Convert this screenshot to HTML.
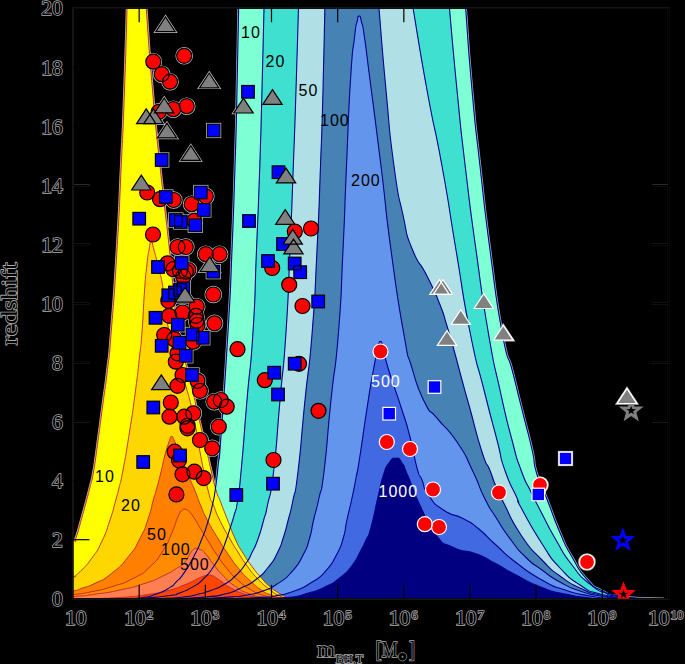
<!DOCTYPE html><html><head><meta charset="utf-8"><style>html,body{margin:0;padding:0;background:#000}svg{display:block}</style></head><body><svg width="685" height="664" viewBox="0 0 685 664">
<rect width="685" height="664" fill="#000"/>
<defs><clipPath id="cp"><rect x="73.00" y="8.25" width="595.50" height="590.50"/></clipPath></defs>
<g clip-path="url(#cp)" fill="none" stroke="#c4c4c4" stroke-width="2.6"><circle cx="184.2" cy="55.8" r="7.5"/><circle cx="153.3" cy="61.7" r="7.5"/><circle cx="161.7" cy="74.2" r="7.5"/><circle cx="170.0" cy="81.7" r="7.5"/><circle cx="186.7" cy="106.2" r="7.5"/><circle cx="173.3" cy="109.2" r="7.5"/><circle cx="158.8" cy="111.8" r="7.5"/><circle cx="147.2" cy="192.5" r="7.5"/><circle cx="160.0" cy="199.2" r="7.5"/><circle cx="173.7" cy="200.0" r="7.5"/><circle cx="205.8" cy="196.3" r="7.5"/><circle cx="191.7" cy="204.2" r="7.5"/><circle cx="194.2" cy="220.8" r="7.5"/><circle cx="153.0" cy="234.5" r="7.5"/><circle cx="177.5" cy="247.0" r="7.5"/><circle cx="185.8" cy="247.0" r="7.5"/><circle cx="205.8" cy="254.2" r="7.5"/><circle cx="219.5" cy="254.2" r="7.5"/><circle cx="167.5" cy="263.3" r="7.5"/><circle cx="173.3" cy="269.2" r="7.5"/><circle cx="180.0" cy="270.8" r="7.5"/><circle cx="185.8" cy="271.7" r="7.5"/><circle cx="188.3" cy="270.0" r="7.5"/><circle cx="183.3" cy="276.7" r="7.5"/><circle cx="213.3" cy="294.5" r="7.5"/><circle cx="168.3" cy="300.8" r="7.5"/><circle cx="196.7" cy="306.7" r="7.5"/><circle cx="169.2" cy="315.8" r="7.5"/><circle cx="182.5" cy="312.5" r="7.5"/><circle cx="195.8" cy="315.8" r="7.5"/><circle cx="196.7" cy="320.8" r="7.5"/><circle cx="197.5" cy="325.0" r="7.5"/><circle cx="214.5" cy="323.3" r="7.5"/><circle cx="164.2" cy="335.0" r="7.5"/><circle cx="174.2" cy="339.2" r="7.5"/><circle cx="193.3" cy="341.7" r="7.5"/><circle cx="177.5" cy="353.3" r="7.5"/><circle cx="175.8" cy="361.7" r="7.5"/><circle cx="237.5" cy="349.2" r="7.5"/><circle cx="182.5" cy="375.0" r="7.5"/><circle cx="197.5" cy="380.8" r="7.5"/><circle cx="177.5" cy="385.8" r="7.5"/><circle cx="200.0" cy="390.8" r="7.5"/><circle cx="170.8" cy="402.5" r="7.5"/><circle cx="214.2" cy="401.7" r="7.5"/><circle cx="220.8" cy="400.0" r="7.5"/><circle cx="226.7" cy="406.7" r="7.5"/><circle cx="169.5" cy="416.7" r="7.5"/><circle cx="184.2" cy="416.7" r="7.5"/><circle cx="193.3" cy="413.3" r="7.5"/><circle cx="187.5" cy="425.8" r="7.5"/><circle cx="187.5" cy="428.3" r="7.5"/><circle cx="218.8" cy="426.7" r="7.5"/><circle cx="200.0" cy="440.0" r="7.5"/><circle cx="212.2" cy="448.3" r="7.5"/><circle cx="174.7" cy="451.7" r="7.5"/><circle cx="179.0" cy="460.3" r="7.5"/><circle cx="182.5" cy="474.3" r="7.5"/><circle cx="194.4" cy="471.7" r="7.5"/><circle cx="203.6" cy="478.1" r="7.5"/><circle cx="176.4" cy="494.4" r="7.5"/><circle cx="294.8" cy="231.5" r="7.5"/><circle cx="311.0" cy="228.5" r="7.5"/><circle cx="272.2" cy="268.0" r="7.5"/><circle cx="289.2" cy="284.8" r="7.5"/><circle cx="302.5" cy="306.0" r="7.5"/><circle cx="264.8" cy="380.2" r="7.5"/><circle cx="299.0" cy="363.8" r="7.5"/><circle cx="318.5" cy="410.8" r="7.5"/><circle cx="273.5" cy="460.0" r="7.5"/><rect x="155.4" y="153.7" width="12.6" height="12.6"/><rect x="207.3" y="124.2" width="12.6" height="12.6"/><rect x="241.7" y="85.5" width="12.6" height="12.6"/><rect x="159.5" y="190.7" width="12.6" height="12.6"/><rect x="194.5" y="186.2" width="12.6" height="12.6"/><rect x="197.5" y="203.7" width="12.6" height="12.6"/><rect x="132.9" y="212.4" width="12.6" height="12.6"/><rect x="169.5" y="213.7" width="12.6" height="12.6"/><rect x="174.5" y="215.7" width="12.6" height="12.6"/><rect x="189.0" y="219.0" width="12.6" height="12.6"/><rect x="175.4" y="256.7" width="12.6" height="12.6"/><rect x="151.7" y="260.7" width="12.6" height="12.6"/><rect x="207.0" y="265.4" width="12.6" height="12.6"/><rect x="162.0" y="289.0" width="12.6" height="12.6"/><rect x="168.7" y="286.2" width="12.6" height="12.6"/><rect x="173.7" y="283.7" width="12.6" height="12.6"/><rect x="177.0" y="282.0" width="12.6" height="12.6"/><rect x="149.2" y="311.5" width="12.6" height="12.6"/><rect x="171.5" y="318.4" width="12.6" height="12.6"/><rect x="186.2" y="328.2" width="12.6" height="12.6"/><rect x="196.5" y="331.5" width="12.6" height="12.6"/><rect x="155.4" y="339.5" width="12.6" height="12.6"/><rect x="173.2" y="336.5" width="12.6" height="12.6"/><rect x="179.5" y="349.5" width="12.6" height="12.6"/><rect x="185.7" y="368.7" width="12.6" height="12.6"/><rect x="147.0" y="401.2" width="12.6" height="12.6"/><rect x="173.7" y="449.2" width="12.6" height="12.6"/><rect x="136.9" y="455.7" width="12.6" height="12.6"/><rect x="230.0" y="488.7" width="12.6" height="12.6"/><rect x="272.2" y="165.9" width="12.6" height="12.6"/><rect x="242.7" y="214.7" width="12.6" height="12.6"/><rect x="276.7" y="237.7" width="12.6" height="12.6"/><rect x="261.7" y="254.7" width="12.6" height="12.6"/><rect x="288.4" y="257.2" width="12.6" height="12.6"/><rect x="293.9" y="265.9" width="12.6" height="12.6"/><rect x="311.9" y="295.2" width="12.6" height="12.6"/><rect x="267.9" y="366.4" width="12.6" height="12.6"/><rect x="288.4" y="357.4" width="12.6" height="12.6"/><rect x="271.7" y="388.2" width="12.6" height="12.6"/><rect x="266.7" y="477.4" width="12.6" height="12.6"/><path d="M165.5 16.8L175.2 31.6L155.8 31.6Z"/><path d="M209.2 73.0L218.9 87.8L199.5 87.8Z"/><path d="M164.2 98.0L173.9 112.8L154.5 112.8Z"/><path d="M146.2 108.8L155.9 123.6L136.6 123.6Z"/><path d="M153.5 108.8L163.2 123.6L143.8 123.6Z"/><path d="M167.0 123.1L176.7 137.9L157.3 137.9Z"/><path d="M190.8 145.6L200.4 160.4L181.1 160.4Z"/><path d="M141.3 175.2L151.0 190.0L131.6 190.0Z"/><path d="M209.7 256.9L219.4 271.7L200.0 271.7Z"/><path d="M185.0 287.4L194.7 302.2L175.3 302.2Z"/><path d="M161.3 374.8L171.0 389.6L151.6 389.6Z"/><path d="M243.5 98.2L253.2 113.0L233.8 113.0Z"/><path d="M272.5 89.6L282.2 104.4L262.8 104.4Z"/><path d="M286.0 168.1L295.7 182.9L276.3 182.9Z"/><path d="M285.2 209.6L294.9 224.4L275.6 224.4Z"/><path d="M292.8 229.3L302.4 244.1L283.1 244.1Z"/><path d="M293.5 239.1L303.2 253.9L283.8 253.9Z"/><circle cx="380.5" cy="351.5" r="7.5"/><circle cx="386.8" cy="442.0" r="7.5"/><circle cx="410.0" cy="449.0" r="7.5"/><circle cx="433.0" cy="489.5" r="7.5"/><circle cx="424.8" cy="524.2" r="7.5"/><circle cx="439.0" cy="527.0" r="7.5"/><circle cx="499.0" cy="492.5" r="7.5"/><circle cx="540.0" cy="485.0" r="7.5"/><circle cx="587.0" cy="562.0" r="7.5"/><rect x="382.9" y="407.4" width="12.6" height="12.6"/><rect x="428.2" y="380.7" width="12.6" height="12.6"/><rect x="532.0" y="488.2" width="12.6" height="12.6"/><rect x="559.2" y="452.2" width="12.6" height="12.6"/><path d="M439.5 279.6L449.2 294.4L429.8 294.4Z"/><path d="M443.0 279.6L452.7 294.4L433.3 294.4Z"/><path d="M483.8 293.7L493.4 308.5L474.1 308.5Z"/><path d="M460.8 309.6L470.4 324.4L451.1 324.4Z"/><path d="M503.2 325.4L513.0 340.2L493.6 340.2Z"/><path d="M447.0 330.6L456.7 345.4L437.3 345.4Z"/><path d="M627.0 388.7L636.7 403.5L617.3 403.5Z"/></g>
<g clip-path="url(#cp)">
<path d="M125.0 598.8C130.6 598.4 131.4 599.3 141.9 597.7C152.4 596.1 147.1 597.4 156.5 594.0C165.9 590.6 163.6 591.3 170.0 587.4C176.4 583.5 170.9 587.4 175.8 582.3C180.7 577.2 178.3 581.3 184.6 572.1C190.9 562.9 189.2 565.3 194.8 554.6C200.4 543.9 197.1 550.6 201.4 540.0C205.7 529.4 204.0 534.5 207.6 522.9C211.2 511.3 209.7 516.9 212.3 505.3C214.9 493.7 213.4 502.4 215.5 488.0C217.6 473.6 216.7 479.3 218.5 462.0C220.3 444.7 217.8 479.3 221.0 436.0C224.2 392.7 224.3 394.0 228.0 332.0C231.7 270.0 229.7 305.3 232.0 250.0C234.3 194.7 233.3 219.3 235.0 166.0C236.7 112.7 235.8 145.3 237.0 90.0C238.2 34.7 237.9 43.3 238.8 0.0C239.6 -43.3 239.3 -26.7 239.5 -40.0M461.9 -40.0C462.9 -26.7 461.6 -43.3 465.0 0.0C468.4 43.3 467.0 34.7 472.0 90.0C477.0 145.3 474.0 112.7 480.0 166.0C486.0 219.3 482.7 194.7 490.0 250.0C497.3 305.3 494.7 292.2 502.0 332.0C509.3 371.8 506.6 348.7 512.0 369.5C517.4 390.3 514.1 377.8 518.2 394.5C522.4 411.2 519.9 401.2 524.5 419.5C529.1 437.8 527.8 431.2 532.0 449.5C536.2 467.8 531.9 457.7 537.0 474.5C542.1 491.3 539.7 480.8 547.3 500.0C554.9 519.2 551.5 513.0 559.7 532.0C567.9 551.0 562.9 541.2 572.0 557.0C581.1 572.8 577.0 568.2 587.0 579.4C597.0 590.6 590.3 584.8 601.9 590.6C613.5 596.4 601.0 594.1 621.7 596.8C642.4 599.5 649.9 598.1 664.0 598.8" fill="none" stroke="#ececff" stroke-opacity="0.7" stroke-width="2.6"/>
<path d="M60.0 541.0C64.5 540.7 68.2 540.9 73.5 540.0C78.8 539.1 73.1 545.5 75.8 538.3C78.5 531.1 78.1 531.1 81.7 518.3C85.3 505.5 83.9 510.4 86.7 500.0C89.5 489.6 87.7 496.3 90.0 487.0C92.3 477.7 91.0 486.2 93.5 472.0C96.0 457.8 94.5 466.2 97.5 444.5C100.5 422.8 99.2 432.0 102.5 407.0C105.8 382.0 104.6 394.5 107.5 369.5C110.4 344.5 108.1 371.8 111.2 332.0C114.4 292.2 113.7 305.3 117.0 250.0C120.3 194.7 118.8 219.3 121.2 166.0C123.8 112.7 122.5 145.3 124.5 90.0C126.5 34.7 126.0 43.3 127.3 0.0C128.6 -43.3 128.1 -26.7 128.5 -40.0M142.5 -40.0C143.6 -26.7 142.3 -43.3 145.6 0.0C148.9 43.3 147.7 34.7 152.5 90.0C157.3 145.3 154.3 112.7 160.0 166.0C165.7 219.3 165.0 208.3 169.5 250.0C174.0 291.7 170.5 263.7 173.5 291.0C176.5 318.3 172.7 301.2 178.5 332.0C184.3 362.8 184.1 355.1 190.8 383.3C197.5 411.5 193.3 394.5 198.5 416.7C203.7 438.9 202.3 432.2 206.5 450.0C210.7 467.8 207.8 456.7 211.0 470.0C214.2 483.3 212.7 479.0 216.0 490.0C219.3 501.0 216.9 492.4 221.0 503.0C225.1 513.6 223.4 509.4 228.3 521.7C233.2 534.0 230.8 529.5 235.7 540.0C240.6 550.5 237.6 544.3 243.0 553.1C248.4 561.9 245.5 557.8 251.8 566.3C258.1 574.8 256.0 571.9 262.0 578.7C268.0 585.5 264.4 582.0 269.9 586.7C275.4 591.4 271.7 588.6 278.4 592.8C285.1 597.0 286.1 597.1 290.0 599.2" fill="none" stroke="#ffe8e8" stroke-opacity="0.75" stroke-width="2.6"/>
<path d="M125.0 598.8C130.6 598.4 131.4 599.3 141.9 597.7C152.4 596.1 147.1 597.4 156.5 594.0C165.9 590.6 163.6 591.3 170.0 587.4C176.4 583.5 170.9 587.4 175.8 582.3C180.7 577.2 178.3 581.3 184.6 572.1C190.9 562.9 189.2 565.3 194.8 554.6C200.4 543.9 197.1 550.6 201.4 540.0C205.7 529.4 204.0 534.5 207.6 522.9C211.2 511.3 209.7 516.9 212.3 505.3C214.9 493.7 213.4 502.4 215.5 488.0C217.6 473.6 216.7 479.3 218.5 462.0C220.3 444.7 217.8 479.3 221.0 436.0C224.2 392.7 224.3 394.0 228.0 332.0C231.7 270.0 229.7 305.3 232.0 250.0C234.3 194.7 233.3 219.3 235.0 166.0C236.7 112.7 235.8 145.3 237.0 90.0C238.2 34.7 237.9 43.3 238.8 0.0C239.6 -43.3 239.3 -26.7 239.5 -40.0L461.9 -40.0C462.9 -26.7 461.6 -43.3 465.0 0.0C468.4 43.3 467.0 34.7 472.0 90.0C477.0 145.3 474.0 112.7 480.0 166.0C486.0 219.3 482.7 194.7 490.0 250.0C497.3 305.3 494.7 292.2 502.0 332.0C509.3 371.8 506.6 348.7 512.0 369.5C517.4 390.3 514.1 377.8 518.2 394.5C522.4 411.2 519.9 401.2 524.5 419.5C529.1 437.8 527.8 431.2 532.0 449.5C536.2 467.8 531.9 457.7 537.0 474.5C542.1 491.3 539.7 480.8 547.3 500.0C554.9 519.2 551.5 513.0 559.7 532.0C567.9 551.0 562.9 541.2 572.0 557.0C581.1 572.8 577.0 568.2 587.0 579.4C597.0 590.6 590.3 584.8 601.9 590.6C613.5 596.4 601.0 594.1 621.7 596.8C642.4 599.5 649.9 598.1 664.0 598.8L664.0 620L50 620Z" fill="#7fffd4"/>
<path d="M140.0 598.8C150.0 597.7 157.1 597.3 170.0 595.5C182.9 593.7 171.5 596.0 178.8 593.3C186.1 590.6 183.6 592.3 191.9 587.4C200.2 582.5 196.3 585.7 203.6 578.7C210.9 571.7 208.0 574.8 213.8 566.3C219.6 557.8 217.0 561.9 221.1 553.1C225.2 544.3 223.1 548.7 226.2 540.0C229.3 531.3 227.7 535.8 230.5 527.0C233.3 518.2 232.2 522.3 234.6 513.5C237.0 504.7 235.4 515.1 237.6 500.6C239.8 486.1 238.1 503.5 241.2 470.0C244.4 436.5 243.1 446.0 247.0 400.0C250.9 354.0 249.8 382.0 253.0 332.0C256.2 282.0 254.2 305.3 256.5 250.0C258.8 194.7 257.9 219.3 259.8 166.0C261.6 112.7 260.5 145.3 262.0 90.0C263.5 34.7 263.1 43.3 264.2 0.0C265.3 -43.3 264.9 -26.7 265.2 -40.0L445.0 -40.0C446.2 -26.7 444.7 -43.3 448.7 0.0C452.7 43.3 451.5 34.7 457.0 90.0C462.5 145.3 458.9 112.7 465.2 166.0C471.6 219.3 468.3 194.7 476.0 250.0C483.7 305.3 480.2 285.3 488.2 332.0C496.2 378.7 492.1 354.0 500.0 390.0C507.9 426.0 505.0 413.3 512.0 440.0C519.0 466.7 514.7 452.7 521.0 470.0C527.3 487.3 524.0 477.4 531.0 492.0C538.0 506.6 533.7 497.8 542.0 513.8C550.3 529.8 546.0 522.9 556.0 540.0C566.0 557.1 560.7 550.3 572.0 565.0C583.3 579.7 577.3 574.3 590.0 584.0C602.7 593.7 593.3 589.1 610.0 594.0C626.7 598.9 630.0 597.2 640.0 598.8L640.0 620L50 620Z" fill="#40e0d0"/>
<path d="M160.0 598.8C167.2 598.2 169.6 598.6 181.7 597.2C193.8 595.9 186.6 597.0 196.3 594.7C206.0 592.4 201.7 593.8 210.9 590.4C220.1 587.0 215.7 589.5 224.0 584.5C232.3 579.5 228.4 582.5 235.7 575.5C243.0 568.5 240.5 571.1 245.9 563.4C251.3 555.7 248.0 560.6 252.0 552.5C256.0 544.4 254.1 549.8 258.0 539.0C261.9 528.2 260.5 531.3 263.7 520.0C266.9 508.7 264.1 521.7 267.5 505.0C270.9 488.3 269.6 505.0 273.8 470.0C277.9 435.0 275.9 446.0 280.0 400.0C284.1 354.0 282.7 382.0 286.0 332.0C289.3 282.0 287.6 305.3 290.0 250.0C292.4 194.7 291.3 219.3 293.3 166.0C295.3 112.7 294.2 145.3 296.0 90.0C297.8 34.7 297.4 43.3 298.7 0.0C300.0 -43.3 299.5 -26.7 299.9 -40.0L404.9 -40.0C407.2 -26.7 404.3 -43.3 411.7 0.0C419.1 43.3 416.9 34.7 427.0 90.0C437.1 145.3 432.3 112.7 442.0 166.0C451.7 219.3 446.7 194.7 456.0 250.0C465.3 305.3 460.7 285.3 470.0 332.0C479.3 378.7 475.0 354.0 484.0 390.0C493.0 426.0 490.1 413.3 497.0 440.0C503.9 466.7 498.1 450.7 504.8 470.0C511.4 489.3 511.6 485.5 517.0 498.0C522.4 510.5 512.7 492.2 521.0 507.5C529.3 522.8 529.0 523.6 542.0 543.8C555.0 563.9 547.3 554.2 560.0 568.0C572.7 581.8 566.7 576.3 580.0 585.0C593.3 593.7 583.3 589.4 600.0 594.0C616.7 598.6 620.0 597.2 630.0 598.8L630.0 620L50 620Z" fill="#b0e0e6"/>
<path d="M180.0 598.8C188.8 598.1 191.8 598.4 206.5 596.9C221.2 595.4 212.8 597.1 224.0 594.3C235.2 591.5 229.3 593.4 240.0 588.5C250.7 583.6 246.7 586.5 256.0 579.5C265.3 572.5 260.9 576.3 268.0 567.5C275.1 558.7 272.1 563.2 277.3 553.0C282.5 542.8 279.9 548.0 283.5 537.0C287.1 526.0 285.0 532.3 288.2 520.0C291.4 507.7 289.6 516.7 293.0 500.0C296.4 483.3 294.2 503.3 298.2 470.0C302.2 436.7 300.3 446.0 305.0 400.0C309.7 354.0 308.2 382.0 312.2 332.0C316.2 282.0 314.2 305.3 317.0 250.0C319.8 194.7 318.5 219.3 320.5 166.0C322.5 112.7 321.5 145.3 323.0 90.0C324.5 34.7 324.0 43.3 325.0 0.0C326.0 -43.3 325.6 -26.7 325.9 -40.0L374.9 -40.0C376.0 -26.7 374.6 -43.3 378.3 0.0C382.0 43.3 380.8 34.7 386.0 90.0C391.2 145.3 388.3 124.3 394.0 166.0C399.7 207.7 397.0 187.5 403.0 215.0C409.0 242.5 404.0 228.2 412.0 248.5C420.0 268.8 417.8 257.7 427.0 276.0C436.2 294.3 432.8 286.8 439.5 303.5C446.2 320.2 442.0 309.8 447.0 326.0C452.0 342.2 449.5 334.0 454.5 352.0C459.5 370.0 457.0 361.7 462.0 380.0C467.0 398.3 462.8 383.0 469.5 407.0C476.2 431.0 475.2 431.0 482.0 452.0C488.8 473.0 485.2 458.7 489.8 470.0C494.3 481.3 491.2 475.2 495.8 486.0C500.3 496.8 495.1 486.2 503.5 502.5C511.9 518.8 508.2 515.8 521.0 535.0C533.8 554.2 529.0 546.3 542.0 560.0C555.0 573.7 547.3 566.7 560.0 576.0C572.7 585.3 566.7 581.7 580.0 588.0C593.3 594.3 585.0 591.4 600.0 595.0C615.0 598.6 616.7 597.5 625.0 598.8L625.0 620L50 620Z" fill="#4682b4"/>
<path d="M200.0 598.8C210.4 598.1 215.6 598.1 231.3 596.9C247.0 595.6 236.5 597.0 247.0 595.0C257.5 593.0 252.3 595.0 262.8 591.0C273.3 587.0 268.6 589.8 278.5 583.1C288.4 576.4 284.4 580.2 292.6 570.8C300.8 561.4 297.5 565.8 303.1 555.0C308.7 544.2 306.0 550.2 309.5 538.5C313.0 526.8 310.4 533.5 313.6 520.0C316.8 506.5 315.4 514.7 319.0 498.0C322.6 481.3 320.2 502.7 324.2 470.0C328.2 437.3 326.2 446.0 331.0 400.0C335.8 354.0 334.5 382.0 338.5 332.0C342.5 282.0 340.3 305.3 343.0 250.0C345.7 194.7 344.0 222.7 346.5 166.0C349.0 109.3 347.8 122.8 350.5 80.0C353.2 37.2 352.3 56.8 354.5 37.5C356.7 18.2 355.4 29.1 357.0 22.0C358.6 14.9 357.8 16.2 359.2 16.2C360.8 16.2 359.8 14.9 361.5 22.0C363.2 29.1 361.7 18.2 364.5 37.5C367.3 56.8 364.5 37.2 370.0 80.0C375.5 122.8 374.0 109.3 381.0 166.0C388.0 222.7 383.5 194.7 391.0 250.0C398.5 305.3 396.5 292.6 403.5 332.0C410.5 371.4 405.0 344.9 412.0 368.2C419.0 391.6 416.2 385.3 424.5 402.0C432.8 418.7 426.2 404.9 437.0 418.2C447.8 431.6 445.2 424.8 457.0 442.0C468.8 459.2 463.1 451.3 472.2 470.0C481.4 488.7 476.6 482.2 484.5 498.0C492.4 513.8 487.2 503.5 496.0 517.5C504.8 531.5 501.0 526.7 511.0 540.0C521.0 553.3 515.7 547.5 526.0 557.5C536.3 567.5 530.7 561.8 542.0 570.0C553.3 578.2 547.3 575.0 560.0 582.0C572.7 589.0 566.7 586.3 580.0 591.0C593.3 595.7 586.7 593.4 600.0 596.0C613.3 598.6 613.3 597.8 620.0 598.8L620.0 620L50 620Z" fill="#6495ed"/>
<path d="M230.0 598.8C240.3 598.3 245.9 598.3 260.9 597.4C275.9 596.5 263.9 598.1 275.0 596.0C286.1 593.9 282.0 595.6 294.3 591.0C306.6 586.4 301.3 588.9 311.8 582.2C322.3 575.5 317.6 579.9 325.8 570.8C334.0 561.7 330.5 566.1 336.4 555.0C342.3 543.9 339.9 549.2 343.4 537.5C346.9 525.8 344.0 533.2 346.9 520.0C349.8 506.8 349.0 512.0 352.0 498.0C355.0 484.0 353.4 491.7 356.0 478.0C358.6 464.3 356.0 480.7 359.8 457.0C363.5 433.3 362.7 436.2 367.2 407.0C371.8 377.8 370.1 388.5 373.5 369.5C376.9 350.5 375.2 359.3 377.5 350.0C379.8 340.7 378.5 341.5 380.5 341.5C382.5 341.5 380.8 340.7 383.5 350.0C386.2 359.3 382.7 350.5 388.5 369.5C394.3 388.5 393.8 384.5 401.0 407.0C408.2 429.5 404.7 416.7 410.0 437.0C415.3 457.3 413.0 453.7 417.0 468.0C421.0 482.3 418.2 471.0 422.0 480.0C425.8 489.0 421.3 485.0 428.5 495.0C435.7 505.0 431.8 502.1 443.5 510.0C455.2 517.9 451.8 512.5 463.5 518.8C475.2 525.0 467.7 520.0 478.5 528.8C489.3 537.5 483.5 533.8 496.0 545.0C508.5 556.2 500.7 550.8 516.0 562.5C531.3 574.2 525.7 570.8 542.0 580.0C558.3 589.2 549.0 584.7 565.0 590.0C581.0 595.3 575.0 593.1 590.0 596.0C605.0 598.9 603.3 597.8 610.0 598.8L610.0 620L50 620Z" fill="#4169e1"/>
<path d="M260.0 598.8C269.7 598.3 273.5 599.1 289.0 597.4C304.5 595.7 294.9 596.9 306.6 593.6C318.3 590.3 313.0 592.7 324.1 587.4C335.2 582.1 330.6 585.1 339.9 577.8C349.2 570.5 345.5 574.0 352.1 565.5C358.7 557.0 355.2 560.9 359.8 552.4C364.4 543.9 362.3 548.3 366.0 540.0C369.7 531.7 367.0 541.8 371.0 527.5C375.0 513.2 373.8 514.5 378.0 497.0C382.2 479.5 379.8 486.3 383.5 475.0C387.2 463.7 384.8 468.6 389.0 463.0C393.2 457.4 391.7 458.2 396.0 458.2C400.3 458.2 398.0 457.1 402.0 463.0C406.0 468.9 401.7 461.2 408.0 476.0C414.3 490.8 411.7 487.8 421.0 507.5C430.3 527.2 425.2 521.7 436.0 535.0C446.8 548.3 440.2 541.2 453.5 547.5C466.8 553.8 461.8 548.3 476.0 553.8C490.2 559.2 482.7 556.7 496.0 563.8C509.3 570.8 500.7 567.1 516.0 575.0C531.3 582.9 525.7 581.2 542.0 587.5C558.3 593.8 549.0 590.5 565.0 594.0C581.0 597.5 578.3 596.4 590.0 598.0C601.7 599.6 596.7 598.5 600.0 598.8L600.0 620L50 620Z" fill="#000080"/>
<path d="M60.0 541.0C64.5 540.7 68.2 540.9 73.5 540.0C78.8 539.1 73.1 545.5 75.8 538.3C78.5 531.1 78.1 531.1 81.7 518.3C85.3 505.5 83.9 510.4 86.7 500.0C89.5 489.6 87.7 496.3 90.0 487.0C92.3 477.7 91.0 486.2 93.5 472.0C96.0 457.8 94.5 466.2 97.5 444.5C100.5 422.8 99.2 432.0 102.5 407.0C105.8 382.0 104.6 394.5 107.5 369.5C110.4 344.5 108.1 371.8 111.2 332.0C114.4 292.2 113.7 305.3 117.0 250.0C120.3 194.7 118.8 219.3 121.2 166.0C123.8 112.7 122.5 145.3 124.5 90.0C126.5 34.7 126.0 43.3 127.3 0.0C128.6 -43.3 128.1 -26.7 128.5 -40.0L142.5 -40.0C143.6 -26.7 142.3 -43.3 145.6 0.0C148.9 43.3 147.7 34.7 152.5 90.0C157.3 145.3 154.3 112.7 160.0 166.0C165.7 219.3 165.0 208.3 169.5 250.0C174.0 291.7 170.5 263.7 173.5 291.0C176.5 318.3 172.7 301.2 178.5 332.0C184.3 362.8 184.1 355.1 190.8 383.3C197.5 411.5 193.3 394.5 198.5 416.7C203.7 438.9 202.3 432.2 206.5 450.0C210.7 467.8 207.8 456.7 211.0 470.0C214.2 483.3 212.7 479.0 216.0 490.0C219.3 501.0 216.9 492.4 221.0 503.0C225.1 513.6 223.4 509.4 228.3 521.7C233.2 534.0 230.8 529.5 235.7 540.0C240.6 550.5 237.6 544.3 243.0 553.1C248.4 561.9 245.5 557.8 251.8 566.3C258.1 574.8 256.0 571.9 262.0 578.7C268.0 585.5 264.4 582.0 269.9 586.7C275.4 591.4 271.7 588.6 278.4 592.8C285.1 597.0 286.1 597.1 290.0 599.2L290.0 620L50 620Z" fill="#ffff00"/>
<path d="M60.0 577.0C64.5 576.8 68.5 576.9 73.5 576.5C78.5 576.1 72.3 578.0 75.0 575.8C77.7 573.6 76.1 575.8 81.7 570.0C87.3 564.2 85.0 567.7 91.7 558.3C98.4 548.9 95.6 554.5 101.7 541.7C107.8 528.9 105.3 533.9 110.0 520.0C114.7 506.1 112.8 510.7 115.8 500.0C118.8 489.3 116.6 498.0 119.0 488.0C121.4 478.0 119.5 488.7 123.0 470.0C126.5 451.3 125.5 457.2 129.5 432.0C133.5 406.8 131.7 419.5 135.0 394.5C138.3 369.5 137.2 377.8 139.5 357.0C141.8 336.2 140.3 354.0 142.0 332.0C143.7 310.0 142.9 313.0 144.5 291.0C146.1 269.0 145.2 279.7 146.8 266.0C148.2 252.3 147.5 257.9 149.0 250.0C150.5 242.1 149.6 242.2 151.2 242.2C152.9 242.2 151.8 242.1 154.0 250.0C156.2 257.9 154.8 252.3 158.0 266.0C161.2 279.7 159.8 269.0 163.5 291.0C167.2 313.0 164.8 310.0 169.0 332.0C173.2 354.0 170.7 339.9 176.0 357.0C181.3 374.1 179.2 363.4 185.0 383.3C190.8 403.2 188.5 393.8 193.5 416.7C198.5 439.6 195.2 427.6 200.0 452.0C204.8 476.4 203.5 472.2 208.0 490.0C212.5 507.8 209.3 494.7 213.5 505.3C217.7 515.9 214.8 510.1 220.5 521.7C226.2 533.3 224.6 529.5 230.6 540.0C236.6 550.5 233.0 544.3 238.6 553.1C244.2 561.9 241.1 557.8 247.4 566.3C253.7 574.8 250.1 570.9 257.6 578.7C265.1 586.5 262.8 584.0 269.9 589.6C277.0 595.2 272.6 592.3 279.0 595.5C285.4 598.7 285.7 598.0 289.0 599.2L289.0 620L50 620Z" fill="#ffd700"/>
<path d="M60.0 591.0C64.5 590.9 66.3 591.7 73.5 590.8C80.7 589.9 74.5 590.8 81.7 588.3C88.9 585.8 85.0 588.3 95.0 583.3C105.0 578.3 100.6 582.2 111.7 573.3C122.8 564.4 118.9 568.4 128.3 556.7C137.7 545.0 133.3 551.1 140.0 538.3C146.7 525.5 143.9 531.1 148.3 518.3C152.7 505.5 150.6 509.4 153.3 500.0C156.0 490.6 153.7 499.3 156.3 490.0C158.9 480.7 158.1 483.7 161.0 472.0C163.9 460.3 162.3 465.0 165.0 455.0C167.7 445.0 166.8 448.1 169.0 442.0C171.2 435.9 169.7 436.9 171.5 436.6C173.3 436.3 172.3 436.5 174.5 441.0C176.7 445.5 173.0 437.7 178.0 450.0C183.0 462.3 183.9 464.7 189.5 478.0C195.1 491.3 191.0 480.9 194.7 490.0C198.4 499.1 196.3 495.1 200.6 505.3C204.9 515.5 201.5 509.0 207.6 520.6C213.7 532.2 212.0 528.7 218.9 540.0C225.8 551.3 221.8 545.1 228.4 554.6C235.0 564.1 231.3 559.7 238.6 568.5C245.9 577.3 242.5 573.6 250.3 580.9C258.1 588.2 255.1 585.7 262.0 590.4C268.9 595.1 265.0 592.5 271.0 595.0C277.0 597.5 274.2 596.4 280.0 597.8C285.8 599.2 285.7 598.7 288.5 599.2L288.5 620L50 620Z" fill="#ff7f00"/>
<path d="M60.0 594.7C64.5 594.6 62.9 595.5 73.5 594.5C84.1 593.5 79.0 594.3 91.7 591.7C104.4 589.1 97.8 591.2 111.7 586.7C125.6 582.2 120.5 585.0 133.3 578.3C146.1 571.6 140.0 576.1 150.0 566.7C160.0 557.3 156.1 561.1 163.3 550.0C170.5 538.9 166.7 544.6 171.7 533.3C176.7 522.0 174.9 523.6 178.3 516.0C181.7 508.4 179.7 512.7 182.0 510.5C184.3 508.3 183.0 509.0 185.3 509.3C187.6 509.6 186.3 508.9 189.0 511.5C191.7 514.1 189.6 511.2 193.5 517.0C197.4 522.8 195.9 521.1 200.6 528.8C205.3 536.5 202.1 531.4 207.5 540.0C212.9 548.6 210.2 545.1 216.7 554.6C223.2 564.1 219.6 559.7 226.9 568.5C234.2 577.3 230.3 573.6 238.6 580.9C246.9 588.2 243.0 585.4 251.8 590.4C260.6 595.4 256.5 593.2 264.9 595.8C273.3 598.4 269.3 597.2 277.0 598.3C284.7 599.4 284.3 598.9 288.0 599.2L288.0 620L50 620Z" fill="#ff8c00"/>
<path d="M60.0 596.7C64.5 596.6 61.8 597.3 73.5 596.5C85.2 595.7 79.5 596.4 95.0 594.2C110.5 592.0 103.3 593.6 120.0 590.0C136.7 586.4 130.6 588.0 145.0 583.3C159.4 578.6 152.7 580.8 163.3 575.8C173.9 570.8 169.8 572.6 176.7 568.3C183.6 564.0 179.6 567.9 184.0 563.0C188.4 558.1 186.8 558.2 190.0 553.8C193.2 549.2 191.3 551.3 193.5 549.5C195.7 547.7 194.3 548.3 196.5 548.3C198.7 548.3 197.2 547.9 200.0 549.5C202.8 551.1 200.4 548.0 205.0 553.1C209.6 558.2 207.5 557.0 213.8 564.8C220.1 572.6 216.7 569.2 224.0 576.5C231.3 583.8 227.4 581.0 235.7 586.7C244.0 592.4 239.6 590.1 248.8 593.6C258.0 597.1 254.0 595.6 263.4 597.3C272.8 599.0 269.1 598.1 277.0 598.7C284.9 599.3 283.7 599.0 287.0 599.2L287.0 620L50 620Z" fill="#ff7f50"/>
<path d="M80.0 599.0C82.2 598.9 73.4 599.2 86.7 598.7C100.0 598.2 98.9 599.0 120.0 597.5C141.1 596.0 133.3 596.7 150.0 594.2C166.7 591.7 158.7 593.1 170.0 590.0C181.3 586.9 177.3 587.5 184.0 585.0C190.7 582.5 185.3 584.7 190.0 582.5C194.7 580.3 193.3 580.7 198.0 578.5C202.7 576.3 200.4 577.2 204.0 576.0C207.6 574.8 206.0 575.1 208.7 575.0C211.4 574.9 209.8 575.0 212.0 575.7C214.2 576.4 211.8 575.0 215.3 577.2C218.8 579.4 217.3 578.6 222.6 582.3C227.9 586.0 224.5 584.4 231.3 588.2C238.1 592.0 235.2 590.7 243.0 593.6C250.8 596.5 245.7 595.2 254.7 596.8C263.7 598.4 259.6 597.7 270.0 598.5C280.4 599.3 280.7 599.0 286.0 599.2L286.0 620L50 620Z" fill="#ff4500"/>
<path d="M60.0 541.0C64.5 540.7 68.2 540.9 73.5 540.0C78.8 539.1 73.1 545.5 75.8 538.3C78.5 531.1 78.1 531.1 81.7 518.3C85.3 505.5 83.9 510.4 86.7 500.0C89.5 489.6 87.7 496.3 90.0 487.0C92.3 477.7 91.0 486.2 93.5 472.0C96.0 457.8 94.5 466.2 97.5 444.5C100.5 422.8 99.2 432.0 102.5 407.0C105.8 382.0 104.6 394.5 107.5 369.5C110.4 344.5 108.1 371.8 111.2 332.0C114.4 292.2 113.7 305.3 117.0 250.0C120.3 194.7 118.8 219.3 121.2 166.0C123.8 112.7 122.5 145.3 124.5 90.0C126.5 34.7 126.0 43.3 127.3 0.0C128.6 -43.3 128.1 -26.7 128.5 -40.0M142.5 -40.0C143.6 -26.7 142.3 -43.3 145.6 0.0C148.9 43.3 147.7 34.7 152.5 90.0C157.3 145.3 154.3 112.7 160.0 166.0C165.7 219.3 165.0 208.3 169.5 250.0C174.0 291.7 170.5 263.7 173.5 291.0C176.5 318.3 172.7 301.2 178.5 332.0C184.3 362.8 184.1 355.1 190.8 383.3C197.5 411.5 193.3 394.5 198.5 416.7C203.7 438.9 202.3 432.2 206.5 450.0C210.7 467.8 207.8 456.7 211.0 470.0C214.2 483.3 212.7 479.0 216.0 490.0C219.3 501.0 216.9 492.4 221.0 503.0C225.1 513.6 223.4 509.4 228.3 521.7C233.2 534.0 230.8 529.5 235.7 540.0C240.6 550.5 237.6 544.3 243.0 553.1C248.4 561.9 245.5 557.8 251.8 566.3C258.1 574.8 256.0 571.9 262.0 578.7C268.0 585.5 264.4 582.0 269.9 586.7C275.4 591.4 271.7 588.6 278.4 592.8C285.1 597.0 286.1 597.1 290.0 599.2" fill="none" stroke="#bf2a2a" stroke-width="0.95"/>
<path d="M60.0 577.0C64.5 576.8 68.5 576.9 73.5 576.5C78.5 576.1 72.3 578.0 75.0 575.8C77.7 573.6 76.1 575.8 81.7 570.0C87.3 564.2 85.0 567.7 91.7 558.3C98.4 548.9 95.6 554.5 101.7 541.7C107.8 528.9 105.3 533.9 110.0 520.0C114.7 506.1 112.8 510.7 115.8 500.0C118.8 489.3 116.6 498.0 119.0 488.0C121.4 478.0 119.5 488.7 123.0 470.0C126.5 451.3 125.5 457.2 129.5 432.0C133.5 406.8 131.7 419.5 135.0 394.5C138.3 369.5 137.2 377.8 139.5 357.0C141.8 336.2 140.3 354.0 142.0 332.0C143.7 310.0 142.9 313.0 144.5 291.0C146.1 269.0 145.2 279.7 146.8 266.0C148.2 252.3 147.5 257.9 149.0 250.0C150.5 242.1 149.6 242.2 151.2 242.2C152.9 242.2 151.8 242.1 154.0 250.0C156.2 257.9 154.8 252.3 158.0 266.0C161.2 279.7 159.8 269.0 163.5 291.0C167.2 313.0 164.8 310.0 169.0 332.0C173.2 354.0 170.7 339.9 176.0 357.0C181.3 374.1 179.2 363.4 185.0 383.3C190.8 403.2 188.5 393.8 193.5 416.7C198.5 439.6 195.2 427.6 200.0 452.0C204.8 476.4 203.5 472.2 208.0 490.0C212.5 507.8 209.3 494.7 213.5 505.3C217.7 515.9 214.8 510.1 220.5 521.7C226.2 533.3 224.6 529.5 230.6 540.0C236.6 550.5 233.0 544.3 238.6 553.1C244.2 561.9 241.1 557.8 247.4 566.3C253.7 574.8 250.1 570.9 257.6 578.7C265.1 586.5 262.8 584.0 269.9 589.6C277.0 595.2 272.6 592.3 279.0 595.5C285.4 598.7 285.7 598.0 289.0 599.2" fill="none" stroke="#bf2a2a" stroke-width="0.95"/>
<path d="M60.0 591.0C64.5 590.9 66.3 591.7 73.5 590.8C80.7 589.9 74.5 590.8 81.7 588.3C88.9 585.8 85.0 588.3 95.0 583.3C105.0 578.3 100.6 582.2 111.7 573.3C122.8 564.4 118.9 568.4 128.3 556.7C137.7 545.0 133.3 551.1 140.0 538.3C146.7 525.5 143.9 531.1 148.3 518.3C152.7 505.5 150.6 509.4 153.3 500.0C156.0 490.6 153.7 499.3 156.3 490.0C158.9 480.7 158.1 483.7 161.0 472.0C163.9 460.3 162.3 465.0 165.0 455.0C167.7 445.0 166.8 448.1 169.0 442.0C171.2 435.9 169.7 436.9 171.5 436.6C173.3 436.3 172.3 436.5 174.5 441.0C176.7 445.5 173.0 437.7 178.0 450.0C183.0 462.3 183.9 464.7 189.5 478.0C195.1 491.3 191.0 480.9 194.7 490.0C198.4 499.1 196.3 495.1 200.6 505.3C204.9 515.5 201.5 509.0 207.6 520.6C213.7 532.2 212.0 528.7 218.9 540.0C225.8 551.3 221.8 545.1 228.4 554.6C235.0 564.1 231.3 559.7 238.6 568.5C245.9 577.3 242.5 573.6 250.3 580.9C258.1 588.2 255.1 585.7 262.0 590.4C268.9 595.1 265.0 592.5 271.0 595.0C277.0 597.5 274.2 596.4 280.0 597.8C285.8 599.2 285.7 598.7 288.5 599.2" fill="none" stroke="#bf2a2a" stroke-width="0.95"/>
<path d="M60.0 594.7C64.5 594.6 62.9 595.5 73.5 594.5C84.1 593.5 79.0 594.3 91.7 591.7C104.4 589.1 97.8 591.2 111.7 586.7C125.6 582.2 120.5 585.0 133.3 578.3C146.1 571.6 140.0 576.1 150.0 566.7C160.0 557.3 156.1 561.1 163.3 550.0C170.5 538.9 166.7 544.6 171.7 533.3C176.7 522.0 174.9 523.6 178.3 516.0C181.7 508.4 179.7 512.7 182.0 510.5C184.3 508.3 183.0 509.0 185.3 509.3C187.6 509.6 186.3 508.9 189.0 511.5C191.7 514.1 189.6 511.2 193.5 517.0C197.4 522.8 195.9 521.1 200.6 528.8C205.3 536.5 202.1 531.4 207.5 540.0C212.9 548.6 210.2 545.1 216.7 554.6C223.2 564.1 219.6 559.7 226.9 568.5C234.2 577.3 230.3 573.6 238.6 580.9C246.9 588.2 243.0 585.4 251.8 590.4C260.6 595.4 256.5 593.2 264.9 595.8C273.3 598.4 269.3 597.2 277.0 598.3C284.7 599.4 284.3 598.9 288.0 599.2" fill="none" stroke="#bf2a2a" stroke-width="0.95"/>
<path d="M60.0 596.7C64.5 596.6 61.8 597.3 73.5 596.5C85.2 595.7 79.5 596.4 95.0 594.2C110.5 592.0 103.3 593.6 120.0 590.0C136.7 586.4 130.6 588.0 145.0 583.3C159.4 578.6 152.7 580.8 163.3 575.8C173.9 570.8 169.8 572.6 176.7 568.3C183.6 564.0 179.6 567.9 184.0 563.0C188.4 558.1 186.8 558.2 190.0 553.8C193.2 549.2 191.3 551.3 193.5 549.5C195.7 547.7 194.3 548.3 196.5 548.3C198.7 548.3 197.2 547.9 200.0 549.5C202.8 551.1 200.4 548.0 205.0 553.1C209.6 558.2 207.5 557.0 213.8 564.8C220.1 572.6 216.7 569.2 224.0 576.5C231.3 583.8 227.4 581.0 235.7 586.7C244.0 592.4 239.6 590.1 248.8 593.6C258.0 597.1 254.0 595.6 263.4 597.3C272.8 599.0 269.1 598.1 277.0 598.7C284.9 599.3 283.7 599.0 287.0 599.2" fill="none" stroke="#bf2a2a" stroke-width="0.95"/>
<path d="M80.0 599.0C82.2 598.9 73.4 599.2 86.7 598.7C100.0 598.2 98.9 599.0 120.0 597.5C141.1 596.0 133.3 596.7 150.0 594.2C166.7 591.7 158.7 593.1 170.0 590.0C181.3 586.9 177.3 587.5 184.0 585.0C190.7 582.5 185.3 584.7 190.0 582.5C194.7 580.3 193.3 580.7 198.0 578.5C202.7 576.3 200.4 577.2 204.0 576.0C207.6 574.8 206.0 575.1 208.7 575.0C211.4 574.9 209.8 575.0 212.0 575.7C214.2 576.4 211.8 575.0 215.3 577.2C218.8 579.4 217.3 578.6 222.6 582.3C227.9 586.0 224.5 584.4 231.3 588.2C238.1 592.0 235.2 590.7 243.0 593.6C250.8 596.5 245.7 595.2 254.7 596.8C263.7 598.4 259.6 597.7 270.0 598.5C280.4 599.3 280.7 599.0 286.0 599.2" fill="none" stroke="#bf2a2a" stroke-width="0.95"/>
<path d="M125.0 598.8C130.6 598.4 131.4 599.3 141.9 597.7C152.4 596.1 147.1 597.4 156.5 594.0C165.9 590.6 163.6 591.3 170.0 587.4C176.4 583.5 170.9 587.4 175.8 582.3C180.7 577.2 178.3 581.3 184.6 572.1C190.9 562.9 189.2 565.3 194.8 554.6C200.4 543.9 197.1 550.6 201.4 540.0C205.7 529.4 204.0 534.5 207.6 522.9C211.2 511.3 209.7 516.9 212.3 505.3C214.9 493.7 213.4 502.4 215.5 488.0C217.6 473.6 216.7 479.3 218.5 462.0C220.3 444.7 217.8 479.3 221.0 436.0C224.2 392.7 224.3 394.0 228.0 332.0C231.7 270.0 229.7 305.3 232.0 250.0C234.3 194.7 233.3 219.3 235.0 166.0C236.7 112.7 235.8 145.3 237.0 90.0C238.2 34.7 237.9 43.3 238.8 0.0C239.6 -43.3 239.3 -26.7 239.5 -40.0M461.9 -40.0C462.9 -26.7 461.6 -43.3 465.0 0.0C468.4 43.3 467.0 34.7 472.0 90.0C477.0 145.3 474.0 112.7 480.0 166.0C486.0 219.3 482.7 194.7 490.0 250.0C497.3 305.3 494.7 292.2 502.0 332.0C509.3 371.8 506.6 348.7 512.0 369.5C517.4 390.3 514.1 377.8 518.2 394.5C522.4 411.2 519.9 401.2 524.5 419.5C529.1 437.8 527.8 431.2 532.0 449.5C536.2 467.8 531.9 457.7 537.0 474.5C542.1 491.3 539.7 480.8 547.3 500.0C554.9 519.2 551.5 513.0 559.7 532.0C567.9 551.0 562.9 541.2 572.0 557.0C581.1 572.8 577.0 568.2 587.0 579.4C597.0 590.6 590.3 584.8 601.9 590.6C613.5 596.4 601.0 594.1 621.7 596.8C642.4 599.5 649.9 598.1 664.0 598.8" fill="none" stroke="#00008b" stroke-width="1.1"/>
<path d="M140.0 598.8C150.0 597.7 157.1 597.3 170.0 595.5C182.9 593.7 171.5 596.0 178.8 593.3C186.1 590.6 183.6 592.3 191.9 587.4C200.2 582.5 196.3 585.7 203.6 578.7C210.9 571.7 208.0 574.8 213.8 566.3C219.6 557.8 217.0 561.9 221.1 553.1C225.2 544.3 223.1 548.7 226.2 540.0C229.3 531.3 227.7 535.8 230.5 527.0C233.3 518.2 232.2 522.3 234.6 513.5C237.0 504.7 235.4 515.1 237.6 500.6C239.8 486.1 238.1 503.5 241.2 470.0C244.4 436.5 243.1 446.0 247.0 400.0C250.9 354.0 249.8 382.0 253.0 332.0C256.2 282.0 254.2 305.3 256.5 250.0C258.8 194.7 257.9 219.3 259.8 166.0C261.6 112.7 260.5 145.3 262.0 90.0C263.5 34.7 263.1 43.3 264.2 0.0C265.3 -43.3 264.9 -26.7 265.2 -40.0M445.0 -40.0C446.2 -26.7 444.7 -43.3 448.7 0.0C452.7 43.3 451.5 34.7 457.0 90.0C462.5 145.3 458.9 112.7 465.2 166.0C471.6 219.3 468.3 194.7 476.0 250.0C483.7 305.3 480.2 285.3 488.2 332.0C496.2 378.7 492.1 354.0 500.0 390.0C507.9 426.0 505.0 413.3 512.0 440.0C519.0 466.7 514.7 452.7 521.0 470.0C527.3 487.3 524.0 477.4 531.0 492.0C538.0 506.6 533.7 497.8 542.0 513.8C550.3 529.8 546.0 522.9 556.0 540.0C566.0 557.1 560.7 550.3 572.0 565.0C583.3 579.7 577.3 574.3 590.0 584.0C602.7 593.7 593.3 589.1 610.0 594.0C626.7 598.9 630.0 597.2 640.0 598.8" fill="none" stroke="#00008b" stroke-width="1.1"/>
<path d="M160.0 598.8C167.2 598.2 169.6 598.6 181.7 597.2C193.8 595.9 186.6 597.0 196.3 594.7C206.0 592.4 201.7 593.8 210.9 590.4C220.1 587.0 215.7 589.5 224.0 584.5C232.3 579.5 228.4 582.5 235.7 575.5C243.0 568.5 240.5 571.1 245.9 563.4C251.3 555.7 248.0 560.6 252.0 552.5C256.0 544.4 254.1 549.8 258.0 539.0C261.9 528.2 260.5 531.3 263.7 520.0C266.9 508.7 264.1 521.7 267.5 505.0C270.9 488.3 269.6 505.0 273.8 470.0C277.9 435.0 275.9 446.0 280.0 400.0C284.1 354.0 282.7 382.0 286.0 332.0C289.3 282.0 287.6 305.3 290.0 250.0C292.4 194.7 291.3 219.3 293.3 166.0C295.3 112.7 294.2 145.3 296.0 90.0C297.8 34.7 297.4 43.3 298.7 0.0C300.0 -43.3 299.5 -26.7 299.9 -40.0M404.9 -40.0C407.2 -26.7 404.3 -43.3 411.7 0.0C419.1 43.3 416.9 34.7 427.0 90.0C437.1 145.3 432.3 112.7 442.0 166.0C451.7 219.3 446.7 194.7 456.0 250.0C465.3 305.3 460.7 285.3 470.0 332.0C479.3 378.7 475.0 354.0 484.0 390.0C493.0 426.0 490.1 413.3 497.0 440.0C503.9 466.7 498.1 450.7 504.8 470.0C511.4 489.3 511.6 485.5 517.0 498.0C522.4 510.5 512.7 492.2 521.0 507.5C529.3 522.8 529.0 523.6 542.0 543.8C555.0 563.9 547.3 554.2 560.0 568.0C572.7 581.8 566.7 576.3 580.0 585.0C593.3 593.7 583.3 589.4 600.0 594.0C616.7 598.6 620.0 597.2 630.0 598.8" fill="none" stroke="#00008b" stroke-width="1.1"/>
<path d="M180.0 598.8C188.8 598.1 191.8 598.4 206.5 596.9C221.2 595.4 212.8 597.1 224.0 594.3C235.2 591.5 229.3 593.4 240.0 588.5C250.7 583.6 246.7 586.5 256.0 579.5C265.3 572.5 260.9 576.3 268.0 567.5C275.1 558.7 272.1 563.2 277.3 553.0C282.5 542.8 279.9 548.0 283.5 537.0C287.1 526.0 285.0 532.3 288.2 520.0C291.4 507.7 289.6 516.7 293.0 500.0C296.4 483.3 294.2 503.3 298.2 470.0C302.2 436.7 300.3 446.0 305.0 400.0C309.7 354.0 308.2 382.0 312.2 332.0C316.2 282.0 314.2 305.3 317.0 250.0C319.8 194.7 318.5 219.3 320.5 166.0C322.5 112.7 321.5 145.3 323.0 90.0C324.5 34.7 324.0 43.3 325.0 0.0C326.0 -43.3 325.6 -26.7 325.9 -40.0M374.9 -40.0C376.0 -26.7 374.6 -43.3 378.3 0.0C382.0 43.3 380.8 34.7 386.0 90.0C391.2 145.3 388.3 124.3 394.0 166.0C399.7 207.7 397.0 187.5 403.0 215.0C409.0 242.5 404.0 228.2 412.0 248.5C420.0 268.8 417.8 257.7 427.0 276.0C436.2 294.3 432.8 286.8 439.5 303.5C446.2 320.2 442.0 309.8 447.0 326.0C452.0 342.2 449.5 334.0 454.5 352.0C459.5 370.0 457.0 361.7 462.0 380.0C467.0 398.3 462.8 383.0 469.5 407.0C476.2 431.0 475.2 431.0 482.0 452.0C488.8 473.0 485.2 458.7 489.8 470.0C494.3 481.3 491.2 475.2 495.8 486.0C500.3 496.8 495.1 486.2 503.5 502.5C511.9 518.8 508.2 515.8 521.0 535.0C533.8 554.2 529.0 546.3 542.0 560.0C555.0 573.7 547.3 566.7 560.0 576.0C572.7 585.3 566.7 581.7 580.0 588.0C593.3 594.3 585.0 591.4 600.0 595.0C615.0 598.6 616.7 597.5 625.0 598.8" fill="none" stroke="#00008b" stroke-width="1.1"/>
<path d="M200.0 598.8C210.4 598.1 215.6 598.1 231.3 596.9C247.0 595.6 236.5 597.0 247.0 595.0C257.5 593.0 252.3 595.0 262.8 591.0C273.3 587.0 268.6 589.8 278.5 583.1C288.4 576.4 284.4 580.2 292.6 570.8C300.8 561.4 297.5 565.8 303.1 555.0C308.7 544.2 306.0 550.2 309.5 538.5C313.0 526.8 310.4 533.5 313.6 520.0C316.8 506.5 315.4 514.7 319.0 498.0C322.6 481.3 320.2 502.7 324.2 470.0C328.2 437.3 326.2 446.0 331.0 400.0C335.8 354.0 334.5 382.0 338.5 332.0C342.5 282.0 340.3 305.3 343.0 250.0C345.7 194.7 344.0 222.7 346.5 166.0C349.0 109.3 347.8 122.8 350.5 80.0C353.2 37.2 352.3 56.8 354.5 37.5C356.7 18.2 355.4 29.1 357.0 22.0C358.6 14.9 357.8 16.2 359.2 16.2C360.8 16.2 359.8 14.9 361.5 22.0C363.2 29.1 361.7 18.2 364.5 37.5C367.3 56.8 364.5 37.2 370.0 80.0C375.5 122.8 374.0 109.3 381.0 166.0C388.0 222.7 383.5 194.7 391.0 250.0C398.5 305.3 396.5 292.6 403.5 332.0C410.5 371.4 405.0 344.9 412.0 368.2C419.0 391.6 416.2 385.3 424.5 402.0C432.8 418.7 426.2 404.9 437.0 418.2C447.8 431.6 445.2 424.8 457.0 442.0C468.8 459.2 463.1 451.3 472.2 470.0C481.4 488.7 476.6 482.2 484.5 498.0C492.4 513.8 487.2 503.5 496.0 517.5C504.8 531.5 501.0 526.7 511.0 540.0C521.0 553.3 515.7 547.5 526.0 557.5C536.3 567.5 530.7 561.8 542.0 570.0C553.3 578.2 547.3 575.0 560.0 582.0C572.7 589.0 566.7 586.3 580.0 591.0C593.3 595.7 586.7 593.4 600.0 596.0C613.3 598.6 613.3 597.8 620.0 598.8" fill="none" stroke="#00008b" stroke-width="1.1"/>
<path d="M230.0 598.8C240.3 598.3 245.9 598.3 260.9 597.4C275.9 596.5 263.9 598.1 275.0 596.0C286.1 593.9 282.0 595.6 294.3 591.0C306.6 586.4 301.3 588.9 311.8 582.2C322.3 575.5 317.6 579.9 325.8 570.8C334.0 561.7 330.5 566.1 336.4 555.0C342.3 543.9 339.9 549.2 343.4 537.5C346.9 525.8 344.0 533.2 346.9 520.0C349.8 506.8 349.0 512.0 352.0 498.0C355.0 484.0 353.4 491.7 356.0 478.0C358.6 464.3 356.0 480.7 359.8 457.0C363.5 433.3 362.7 436.2 367.2 407.0C371.8 377.8 370.1 388.5 373.5 369.5C376.9 350.5 375.2 359.3 377.5 350.0C379.8 340.7 378.5 341.5 380.5 341.5C382.5 341.5 380.8 340.7 383.5 350.0C386.2 359.3 382.7 350.5 388.5 369.5C394.3 388.5 393.8 384.5 401.0 407.0C408.2 429.5 404.7 416.7 410.0 437.0C415.3 457.3 413.0 453.7 417.0 468.0C421.0 482.3 418.2 471.0 422.0 480.0C425.8 489.0 421.3 485.0 428.5 495.0C435.7 505.0 431.8 502.1 443.5 510.0C455.2 517.9 451.8 512.5 463.5 518.8C475.2 525.0 467.7 520.0 478.5 528.8C489.3 537.5 483.5 533.8 496.0 545.0C508.5 556.2 500.7 550.8 516.0 562.5C531.3 574.2 525.7 570.8 542.0 580.0C558.3 589.2 549.0 584.7 565.0 590.0C581.0 595.3 575.0 593.1 590.0 596.0C605.0 598.9 603.3 597.8 610.0 598.8" fill="none" stroke="#00008b" stroke-width="1.1"/>
<path d="M260.0 598.8C269.7 598.3 273.5 599.1 289.0 597.4C304.5 595.7 294.9 596.9 306.6 593.6C318.3 590.3 313.0 592.7 324.1 587.4C335.2 582.1 330.6 585.1 339.9 577.8C349.2 570.5 345.5 574.0 352.1 565.5C358.7 557.0 355.2 560.9 359.8 552.4C364.4 543.9 362.3 548.3 366.0 540.0C369.7 531.7 367.0 541.8 371.0 527.5C375.0 513.2 373.8 514.5 378.0 497.0C382.2 479.5 379.8 486.3 383.5 475.0C387.2 463.7 384.8 468.6 389.0 463.0C393.2 457.4 391.7 458.2 396.0 458.2C400.3 458.2 398.0 457.1 402.0 463.0C406.0 468.9 401.7 461.2 408.0 476.0C414.3 490.8 411.7 487.8 421.0 507.5C430.3 527.2 425.2 521.7 436.0 535.0C446.8 548.3 440.2 541.2 453.5 547.5C466.8 553.8 461.8 548.3 476.0 553.8C490.2 559.2 482.7 556.7 496.0 563.8C509.3 570.8 500.7 567.1 516.0 575.0C531.3 582.9 525.7 581.2 542.0 587.5C558.3 593.8 549.0 590.5 565.0 594.0C581.0 597.5 578.3 596.4 590.0 598.0C601.7 599.6 596.7 598.5 600.0 598.8" fill="none" stroke="#00008b" stroke-width="1.1"/>
</g>
<line x1="73.00" y1="421.60" x2="89.50" y2="421.60" stroke="#747474" stroke-width="1.3"/>
<line x1="668.50" y1="421.60" x2="652.00" y2="421.60" stroke="#747474" stroke-width="1.3"/>
<line x1="73.00" y1="362.55" x2="89.50" y2="362.55" stroke="#747474" stroke-width="1.3"/>
<line x1="668.50" y1="362.55" x2="652.00" y2="362.55" stroke="#747474" stroke-width="1.3"/>
<line x1="73.00" y1="303.50" x2="89.50" y2="303.50" stroke="#747474" stroke-width="1.3"/>
<line x1="668.50" y1="303.50" x2="652.00" y2="303.50" stroke="#747474" stroke-width="1.3"/>
<line x1="73.00" y1="244.45" x2="89.50" y2="244.45" stroke="#747474" stroke-width="1.3"/>
<line x1="668.50" y1="244.45" x2="652.00" y2="244.45" stroke="#747474" stroke-width="1.3"/>
<line x1="73.00" y1="185.40" x2="89.50" y2="185.40" stroke="#c8c8c8" stroke-width="1.3"/>
<line x1="668.50" y1="185.40" x2="652.00" y2="185.40" stroke="#c8c8c8" stroke-width="1.3"/>
<rect x="73.00" y="8.25" width="595.50" height="590.50" fill="none" stroke="#5a5a5a" stroke-width="1.2"/>
<g stroke="#000" stroke-width="1.2" fill="none">
<line x1="139.17" y1="598.75" x2="139.17" y2="584.75"/>
<line x1="139.17" y1="8.25" x2="139.17" y2="22.25"/>
<line x1="205.33" y1="598.75" x2="205.33" y2="584.75"/>
<line x1="205.33" y1="8.25" x2="205.33" y2="22.25"/>
<line x1="271.50" y1="598.75" x2="271.50" y2="584.75"/>
<line x1="271.50" y1="8.25" x2="271.50" y2="22.25"/>
<line x1="337.67" y1="598.75" x2="337.67" y2="584.75"/>
<line x1="337.67" y1="8.25" x2="337.67" y2="22.25"/>
<line x1="403.83" y1="598.75" x2="403.83" y2="584.75"/>
<line x1="403.83" y1="8.25" x2="403.83" y2="22.25"/>
<line x1="470.00" y1="598.75" x2="470.00" y2="584.75"/>
<line x1="470.00" y1="8.25" x2="470.00" y2="22.25"/>
<line x1="536.17" y1="598.75" x2="536.17" y2="584.75"/>
<line x1="536.17" y1="8.25" x2="536.17" y2="22.25"/>
<line x1="602.33" y1="598.75" x2="602.33" y2="584.75"/>
<line x1="602.33" y1="8.25" x2="602.33" y2="22.25"/>
<line x1="73.00" y1="539.70" x2="89.50" y2="539.70"/>
<line x1="668.50" y1="539.70" x2="652.00" y2="539.70"/>
<line x1="73.00" y1="480.65" x2="89.50" y2="480.65"/>
<line x1="668.50" y1="480.65" x2="652.00" y2="480.65"/>
<line x1="73.00" y1="421.60" x2="89.50" y2="421.60"/>
<line x1="668.50" y1="421.60" x2="652.00" y2="421.60"/>
<line x1="73.00" y1="362.55" x2="89.50" y2="362.55"/>
<line x1="668.50" y1="362.55" x2="652.00" y2="362.55"/>
<line x1="73.00" y1="303.50" x2="89.50" y2="303.50"/>
<line x1="668.50" y1="303.50" x2="652.00" y2="303.50"/>
<line x1="73.00" y1="244.45" x2="89.50" y2="244.45"/>
<line x1="668.50" y1="244.45" x2="652.00" y2="244.45"/>
<line x1="73.00" y1="185.40" x2="89.50" y2="185.40"/>
<line x1="668.50" y1="185.40" x2="652.00" y2="185.40"/>
<line x1="73.00" y1="126.35" x2="89.50" y2="126.35"/>
<line x1="668.50" y1="126.35" x2="652.00" y2="126.35"/>
<line x1="73.00" y1="67.30" x2="89.50" y2="67.30"/>
<line x1="668.50" y1="67.30" x2="652.00" y2="67.30"/>
<rect x="73.00" y="8.25" width="595.50" height="590.50"/>
</g>
<text x="241.0" y="37.5" fill="#000" font-size="16" letter-spacing="1" font-family="Liberation Sans, sans-serif">10</text>
<text x="265.5" y="66.5" fill="#000" font-size="16" letter-spacing="1" font-family="Liberation Sans, sans-serif">20</text>
<text x="298.5" y="96.0" fill="#000" font-size="16" letter-spacing="1" font-family="Liberation Sans, sans-serif">50</text>
<text x="320.0" y="126.0" fill="#000" font-size="16" letter-spacing="1" font-family="Liberation Sans, sans-serif">100</text>
<text x="351.0" y="185.5" fill="#000" font-size="16" letter-spacing="1" font-family="Liberation Sans, sans-serif">200</text>
<text x="371.0" y="386.5" fill="#fff" font-size="16" letter-spacing="1" font-family="Liberation Sans, sans-serif">500</text>
<text x="378.5" y="496.5" fill="#fff" font-size="16" letter-spacing="1" font-family="Liberation Sans, sans-serif">1000</text>
<text x="95.0" y="481.5" fill="#000" font-size="16" letter-spacing="1" font-family="Liberation Sans, sans-serif">10</text>
<text x="121.0" y="510.5" fill="#000" font-size="16" letter-spacing="1" font-family="Liberation Sans, sans-serif">20</text>
<text x="147.0" y="540.0" fill="#000" font-size="16" letter-spacing="1" font-family="Liberation Sans, sans-serif">50</text>
<text x="161.0" y="555.0" fill="#000" font-size="16" letter-spacing="1" font-family="Liberation Sans, sans-serif">100</text>
<text x="180.0" y="570.0" fill="#000" font-size="16" letter-spacing="1" font-family="Liberation Sans, sans-serif">500</text>
<g clip-path="url(#cp)">
<polygon points="631.2,401.7 633.4,407.6 639.7,407.8 634.8,411.8 636.4,417.8 631.2,414.3 626.0,417.8 627.6,411.8 622.7,407.8 629.0,407.6" fill="#000" stroke="#808080" stroke-width="2.9" stroke-linejoin="miter"/>
<polygon points="622.9,531.4 625.1,537.3 631.4,537.5 626.5,541.5 628.1,547.5 622.9,544.0 617.7,547.5 619.3,541.5 614.4,537.5 620.7,537.3" fill="#000" stroke="#0000ff" stroke-width="2.9" stroke-linejoin="miter"/>
<polygon points="623.5,585.4 625.7,591.3 632.0,591.5 627.1,595.5 628.7,601.5 623.5,598.0 618.3,601.5 619.9,595.5 615.0,591.5 621.3,591.3" fill="#000" stroke="#ff0000" stroke-width="2.9" stroke-linejoin="miter"/>
<g fill="#ff0000" stroke="none"><circle cx="184.2" cy="55.8" r="7.5"/><circle cx="153.3" cy="61.7" r="7.5"/><circle cx="161.7" cy="74.2" r="7.5"/><circle cx="170.0" cy="81.7" r="7.5"/><circle cx="186.7" cy="106.2" r="7.5"/><circle cx="173.3" cy="109.2" r="7.5"/><circle cx="158.8" cy="111.8" r="7.5"/><circle cx="147.2" cy="192.5" r="7.5"/><circle cx="160.0" cy="199.2" r="7.5"/><circle cx="173.7" cy="200.0" r="7.5"/><circle cx="205.8" cy="196.3" r="7.5"/><circle cx="191.7" cy="204.2" r="7.5"/><circle cx="194.2" cy="220.8" r="7.5"/><circle cx="153.0" cy="234.5" r="7.5"/><circle cx="177.5" cy="247.0" r="7.5"/><circle cx="185.8" cy="247.0" r="7.5"/><circle cx="205.8" cy="254.2" r="7.5"/><circle cx="219.5" cy="254.2" r="7.5"/><circle cx="167.5" cy="263.3" r="7.5"/><circle cx="173.3" cy="269.2" r="7.5"/><circle cx="180.0" cy="270.8" r="7.5"/><circle cx="185.8" cy="271.7" r="7.5"/><circle cx="188.3" cy="270.0" r="7.5"/><circle cx="183.3" cy="276.7" r="7.5"/><circle cx="213.3" cy="294.5" r="7.5"/><circle cx="168.3" cy="300.8" r="7.5"/><circle cx="196.7" cy="306.7" r="7.5"/><circle cx="169.2" cy="315.8" r="7.5"/><circle cx="182.5" cy="312.5" r="7.5"/><circle cx="195.8" cy="315.8" r="7.5"/><circle cx="196.7" cy="320.8" r="7.5"/><circle cx="197.5" cy="325.0" r="7.5"/><circle cx="214.5" cy="323.3" r="7.5"/><circle cx="164.2" cy="335.0" r="7.5"/><circle cx="174.2" cy="339.2" r="7.5"/><circle cx="193.3" cy="341.7" r="7.5"/><circle cx="177.5" cy="353.3" r="7.5"/><circle cx="175.8" cy="361.7" r="7.5"/><circle cx="237.5" cy="349.2" r="7.5"/><circle cx="182.5" cy="375.0" r="7.5"/><circle cx="197.5" cy="380.8" r="7.5"/><circle cx="177.5" cy="385.8" r="7.5"/><circle cx="200.0" cy="390.8" r="7.5"/><circle cx="170.8" cy="402.5" r="7.5"/><circle cx="214.2" cy="401.7" r="7.5"/><circle cx="220.8" cy="400.0" r="7.5"/><circle cx="226.7" cy="406.7" r="7.5"/><circle cx="169.5" cy="416.7" r="7.5"/><circle cx="184.2" cy="416.7" r="7.5"/><circle cx="193.3" cy="413.3" r="7.5"/><circle cx="187.5" cy="425.8" r="7.5"/><circle cx="187.5" cy="428.3" r="7.5"/><circle cx="218.8" cy="426.7" r="7.5"/><circle cx="200.0" cy="440.0" r="7.5"/><circle cx="212.2" cy="448.3" r="7.5"/><circle cx="174.7" cy="451.7" r="7.5"/><circle cx="179.0" cy="460.3" r="7.5"/><circle cx="182.5" cy="474.3" r="7.5"/><circle cx="194.4" cy="471.7" r="7.5"/><circle cx="203.6" cy="478.1" r="7.5"/><circle cx="176.4" cy="494.4" r="7.5"/><circle cx="294.8" cy="231.5" r="7.5"/><circle cx="311.0" cy="228.5" r="7.5"/><circle cx="272.2" cy="268.0" r="7.5"/><circle cx="289.2" cy="284.8" r="7.5"/><circle cx="302.5" cy="306.0" r="7.5"/><circle cx="264.8" cy="380.2" r="7.5"/><circle cx="299.0" cy="363.8" r="7.5"/><circle cx="318.5" cy="410.8" r="7.5"/><circle cx="273.5" cy="460.0" r="7.5"/></g>
<g fill="none" stroke="#000" stroke-width="1.2" stroke-linejoin="miter"><circle cx="184.2" cy="55.8" r="7.5"/><circle cx="153.3" cy="61.7" r="7.5"/><circle cx="161.7" cy="74.2" r="7.5"/><circle cx="170.0" cy="81.7" r="7.5"/><circle cx="186.7" cy="106.2" r="7.5"/><circle cx="173.3" cy="109.2" r="7.5"/><circle cx="158.8" cy="111.8" r="7.5"/><circle cx="147.2" cy="192.5" r="7.5"/><circle cx="160.0" cy="199.2" r="7.5"/><circle cx="173.7" cy="200.0" r="7.5"/><circle cx="205.8" cy="196.3" r="7.5"/><circle cx="191.7" cy="204.2" r="7.5"/><circle cx="194.2" cy="220.8" r="7.5"/><circle cx="153.0" cy="234.5" r="7.5"/><circle cx="177.5" cy="247.0" r="7.5"/><circle cx="185.8" cy="247.0" r="7.5"/><circle cx="205.8" cy="254.2" r="7.5"/><circle cx="219.5" cy="254.2" r="7.5"/><circle cx="167.5" cy="263.3" r="7.5"/><circle cx="173.3" cy="269.2" r="7.5"/><circle cx="180.0" cy="270.8" r="7.5"/><circle cx="185.8" cy="271.7" r="7.5"/><circle cx="188.3" cy="270.0" r="7.5"/><circle cx="183.3" cy="276.7" r="7.5"/><circle cx="213.3" cy="294.5" r="7.5"/><circle cx="168.3" cy="300.8" r="7.5"/><circle cx="196.7" cy="306.7" r="7.5"/><circle cx="169.2" cy="315.8" r="7.5"/><circle cx="182.5" cy="312.5" r="7.5"/><circle cx="195.8" cy="315.8" r="7.5"/><circle cx="196.7" cy="320.8" r="7.5"/><circle cx="197.5" cy="325.0" r="7.5"/><circle cx="214.5" cy="323.3" r="7.5"/><circle cx="164.2" cy="335.0" r="7.5"/><circle cx="174.2" cy="339.2" r="7.5"/><circle cx="193.3" cy="341.7" r="7.5"/><circle cx="177.5" cy="353.3" r="7.5"/><circle cx="175.8" cy="361.7" r="7.5"/><circle cx="237.5" cy="349.2" r="7.5"/><circle cx="182.5" cy="375.0" r="7.5"/><circle cx="197.5" cy="380.8" r="7.5"/><circle cx="177.5" cy="385.8" r="7.5"/><circle cx="200.0" cy="390.8" r="7.5"/><circle cx="170.8" cy="402.5" r="7.5"/><circle cx="214.2" cy="401.7" r="7.5"/><circle cx="220.8" cy="400.0" r="7.5"/><circle cx="226.7" cy="406.7" r="7.5"/><circle cx="169.5" cy="416.7" r="7.5"/><circle cx="184.2" cy="416.7" r="7.5"/><circle cx="193.3" cy="413.3" r="7.5"/><circle cx="187.5" cy="425.8" r="7.5"/><circle cx="187.5" cy="428.3" r="7.5"/><circle cx="218.8" cy="426.7" r="7.5"/><circle cx="200.0" cy="440.0" r="7.5"/><circle cx="212.2" cy="448.3" r="7.5"/><circle cx="174.7" cy="451.7" r="7.5"/><circle cx="179.0" cy="460.3" r="7.5"/><circle cx="182.5" cy="474.3" r="7.5"/><circle cx="194.4" cy="471.7" r="7.5"/><circle cx="203.6" cy="478.1" r="7.5"/><circle cx="176.4" cy="494.4" r="7.5"/><circle cx="294.8" cy="231.5" r="7.5"/><circle cx="311.0" cy="228.5" r="7.5"/><circle cx="272.2" cy="268.0" r="7.5"/><circle cx="289.2" cy="284.8" r="7.5"/><circle cx="302.5" cy="306.0" r="7.5"/><circle cx="264.8" cy="380.2" r="7.5"/><circle cx="299.0" cy="363.8" r="7.5"/><circle cx="318.5" cy="410.8" r="7.5"/><circle cx="273.5" cy="460.0" r="7.5"/></g>
<g fill="#0000ff" stroke="none"><rect x="155.4" y="153.7" width="12.6" height="12.6"/><rect x="207.3" y="124.2" width="12.6" height="12.6"/><rect x="241.7" y="85.5" width="12.6" height="12.6"/><rect x="159.5" y="190.7" width="12.6" height="12.6"/><rect x="194.5" y="186.2" width="12.6" height="12.6"/><rect x="197.5" y="203.7" width="12.6" height="12.6"/><rect x="132.9" y="212.4" width="12.6" height="12.6"/><rect x="169.5" y="213.7" width="12.6" height="12.6"/><rect x="174.5" y="215.7" width="12.6" height="12.6"/><rect x="189.0" y="219.0" width="12.6" height="12.6"/><rect x="175.4" y="256.7" width="12.6" height="12.6"/><rect x="151.7" y="260.7" width="12.6" height="12.6"/><rect x="207.0" y="265.4" width="12.6" height="12.6"/><rect x="162.0" y="289.0" width="12.6" height="12.6"/><rect x="168.7" y="286.2" width="12.6" height="12.6"/><rect x="173.7" y="283.7" width="12.6" height="12.6"/><rect x="177.0" y="282.0" width="12.6" height="12.6"/><rect x="149.2" y="311.5" width="12.6" height="12.6"/><rect x="171.5" y="318.4" width="12.6" height="12.6"/><rect x="186.2" y="328.2" width="12.6" height="12.6"/><rect x="196.5" y="331.5" width="12.6" height="12.6"/><rect x="155.4" y="339.5" width="12.6" height="12.6"/><rect x="173.2" y="336.5" width="12.6" height="12.6"/><rect x="179.5" y="349.5" width="12.6" height="12.6"/><rect x="185.7" y="368.7" width="12.6" height="12.6"/><rect x="147.0" y="401.2" width="12.6" height="12.6"/><rect x="173.7" y="449.2" width="12.6" height="12.6"/><rect x="136.9" y="455.7" width="12.6" height="12.6"/><rect x="230.0" y="488.7" width="12.6" height="12.6"/><rect x="272.2" y="165.9" width="12.6" height="12.6"/><rect x="242.7" y="214.7" width="12.6" height="12.6"/><rect x="276.7" y="237.7" width="12.6" height="12.6"/><rect x="261.7" y="254.7" width="12.6" height="12.6"/><rect x="288.4" y="257.2" width="12.6" height="12.6"/><rect x="293.9" y="265.9" width="12.6" height="12.6"/><rect x="311.9" y="295.2" width="12.6" height="12.6"/><rect x="267.9" y="366.4" width="12.6" height="12.6"/><rect x="288.4" y="357.4" width="12.6" height="12.6"/><rect x="271.7" y="388.2" width="12.6" height="12.6"/><rect x="266.7" y="477.4" width="12.6" height="12.6"/></g>
<g fill="none" stroke="#000" stroke-width="1.2" stroke-linejoin="miter"><rect x="155.4" y="153.7" width="12.6" height="12.6"/><rect x="207.3" y="124.2" width="12.6" height="12.6"/><rect x="241.7" y="85.5" width="12.6" height="12.6"/><rect x="159.5" y="190.7" width="12.6" height="12.6"/><rect x="194.5" y="186.2" width="12.6" height="12.6"/><rect x="197.5" y="203.7" width="12.6" height="12.6"/><rect x="132.9" y="212.4" width="12.6" height="12.6"/><rect x="169.5" y="213.7" width="12.6" height="12.6"/><rect x="174.5" y="215.7" width="12.6" height="12.6"/><rect x="189.0" y="219.0" width="12.6" height="12.6"/><rect x="175.4" y="256.7" width="12.6" height="12.6"/><rect x="151.7" y="260.7" width="12.6" height="12.6"/><rect x="207.0" y="265.4" width="12.6" height="12.6"/><rect x="162.0" y="289.0" width="12.6" height="12.6"/><rect x="168.7" y="286.2" width="12.6" height="12.6"/><rect x="173.7" y="283.7" width="12.6" height="12.6"/><rect x="177.0" y="282.0" width="12.6" height="12.6"/><rect x="149.2" y="311.5" width="12.6" height="12.6"/><rect x="171.5" y="318.4" width="12.6" height="12.6"/><rect x="186.2" y="328.2" width="12.6" height="12.6"/><rect x="196.5" y="331.5" width="12.6" height="12.6"/><rect x="155.4" y="339.5" width="12.6" height="12.6"/><rect x="173.2" y="336.5" width="12.6" height="12.6"/><rect x="179.5" y="349.5" width="12.6" height="12.6"/><rect x="185.7" y="368.7" width="12.6" height="12.6"/><rect x="147.0" y="401.2" width="12.6" height="12.6"/><rect x="173.7" y="449.2" width="12.6" height="12.6"/><rect x="136.9" y="455.7" width="12.6" height="12.6"/><rect x="230.0" y="488.7" width="12.6" height="12.6"/><rect x="272.2" y="165.9" width="12.6" height="12.6"/><rect x="242.7" y="214.7" width="12.6" height="12.6"/><rect x="276.7" y="237.7" width="12.6" height="12.6"/><rect x="261.7" y="254.7" width="12.6" height="12.6"/><rect x="288.4" y="257.2" width="12.6" height="12.6"/><rect x="293.9" y="265.9" width="12.6" height="12.6"/><rect x="311.9" y="295.2" width="12.6" height="12.6"/><rect x="267.9" y="366.4" width="12.6" height="12.6"/><rect x="288.4" y="357.4" width="12.6" height="12.6"/><rect x="271.7" y="388.2" width="12.6" height="12.6"/><rect x="266.7" y="477.4" width="12.6" height="12.6"/></g>
<g fill="#808080" stroke="none"><path d="M165.5 16.8L175.2 31.6L155.8 31.6Z"/><path d="M209.2 73.0L218.9 87.8L199.5 87.8Z"/><path d="M164.2 98.0L173.9 112.8L154.5 112.8Z"/><path d="M146.2 108.8L155.9 123.6L136.6 123.6Z"/><path d="M153.5 108.8L163.2 123.6L143.8 123.6Z"/><path d="M167.0 123.1L176.7 137.9L157.3 137.9Z"/><path d="M190.8 145.6L200.4 160.4L181.1 160.4Z"/><path d="M141.3 175.2L151.0 190.0L131.6 190.0Z"/><path d="M209.7 256.9L219.4 271.7L200.0 271.7Z"/><path d="M185.0 287.4L194.7 302.2L175.3 302.2Z"/><path d="M161.3 374.8L171.0 389.6L151.6 389.6Z"/><path d="M243.5 98.2L253.2 113.0L233.8 113.0Z"/><path d="M272.5 89.6L282.2 104.4L262.8 104.4Z"/><path d="M286.0 168.1L295.7 182.9L276.3 182.9Z"/><path d="M285.2 209.6L294.9 224.4L275.6 224.4Z"/><path d="M292.8 229.3L302.4 244.1L283.1 244.1Z"/><path d="M293.5 239.1L303.2 253.9L283.8 253.9Z"/></g>
<g fill="none" stroke="#000" stroke-width="1.2" stroke-linejoin="miter"><path d="M165.5 16.8L175.2 31.6L155.8 31.6Z"/><path d="M209.2 73.0L218.9 87.8L199.5 87.8Z"/><path d="M164.2 98.0L173.9 112.8L154.5 112.8Z"/><path d="M146.2 108.8L155.9 123.6L136.6 123.6Z"/><path d="M153.5 108.8L163.2 123.6L143.8 123.6Z"/><path d="M167.0 123.1L176.7 137.9L157.3 137.9Z"/><path d="M190.8 145.6L200.4 160.4L181.1 160.4Z"/><path d="M141.3 175.2L151.0 190.0L131.6 190.0Z"/><path d="M209.7 256.9L219.4 271.7L200.0 271.7Z"/><path d="M185.0 287.4L194.7 302.2L175.3 302.2Z"/><path d="M161.3 374.8L171.0 389.6L151.6 389.6Z"/><path d="M243.5 98.2L253.2 113.0L233.8 113.0Z"/><path d="M272.5 89.6L282.2 104.4L262.8 104.4Z"/><path d="M286.0 168.1L295.7 182.9L276.3 182.9Z"/><path d="M285.2 209.6L294.9 224.4L275.6 224.4Z"/><path d="M292.8 229.3L302.4 244.1L283.1 244.1Z"/><path d="M293.5 239.1L303.2 253.9L283.8 253.9Z"/></g>
<g fill="#ff0000" stroke="none"><circle cx="380.5" cy="351.5" r="7.5"/><circle cx="386.8" cy="442.0" r="7.5"/><circle cx="410.0" cy="449.0" r="7.5"/><circle cx="433.0" cy="489.5" r="7.5"/><circle cx="424.8" cy="524.2" r="7.5"/><circle cx="439.0" cy="527.0" r="7.5"/><circle cx="499.0" cy="492.5" r="7.5"/><circle cx="540.0" cy="485.0" r="7.5"/><circle cx="587.0" cy="562.0" r="7.5"/></g>
<g fill="none" stroke="#fff" stroke-width="1.2" stroke-linejoin="miter"><circle cx="380.5" cy="351.5" r="7.5"/><circle cx="386.8" cy="442.0" r="7.5"/><circle cx="410.0" cy="449.0" r="7.5"/><circle cx="433.0" cy="489.5" r="7.5"/><circle cx="424.8" cy="524.2" r="7.5"/><circle cx="439.0" cy="527.0" r="7.5"/><circle cx="499.0" cy="492.5" r="7.5"/><circle cx="540.0" cy="485.0" r="7.5"/><circle cx="587.0" cy="562.0" r="7.5"/></g>
<g fill="#0000ff" stroke="none"><rect x="382.9" y="407.4" width="12.6" height="12.6"/><rect x="428.2" y="380.7" width="12.6" height="12.6"/><rect x="532.0" y="488.2" width="12.6" height="12.6"/><rect x="559.2" y="452.2" width="12.6" height="12.6"/></g>
<g fill="none" stroke="#fff" stroke-width="1.2" stroke-linejoin="miter"><rect x="382.9" y="407.4" width="12.6" height="12.6"/><rect x="428.2" y="380.7" width="12.6" height="12.6"/><rect x="532.0" y="488.2" width="12.6" height="12.6"/><rect x="559.2" y="452.2" width="12.6" height="12.6"/></g>
<g fill="#808080" stroke="none"><path d="M439.5 279.6L449.2 294.4L429.8 294.4Z"/><path d="M443.0 279.6L452.7 294.4L433.3 294.4Z"/><path d="M483.8 293.7L493.4 308.5L474.1 308.5Z"/><path d="M460.8 309.6L470.4 324.4L451.1 324.4Z"/><path d="M503.2 325.4L513.0 340.2L493.6 340.2Z"/><path d="M447.0 330.6L456.7 345.4L437.3 345.4Z"/><path d="M627.0 388.7L636.7 403.5L617.3 403.5Z"/></g>
<g fill="none" stroke="#fff" stroke-width="1.2" stroke-linejoin="miter"><path d="M439.5 279.6L449.2 294.4L429.8 294.4Z"/><path d="M443.0 279.6L452.7 294.4L433.3 294.4Z"/><path d="M483.8 293.7L493.4 308.5L474.1 308.5Z"/><path d="M460.8 309.6L470.4 324.4L451.1 324.4Z"/><path d="M503.2 325.4L513.0 340.2L493.6 340.2Z"/><path d="M447.0 330.6L456.7 345.4L437.3 345.4Z"/><path d="M627.0 388.7L636.7 403.5L617.3 403.5Z"/></g>
</g>
<text x="62.8" y="606.0" text-anchor="end" font-size="21.5" font-family="Liberation Serif, serif" fill="#000" stroke="#adadad" stroke-width="1.5" paint-order="stroke">0</text>
<text x="62.8" y="546.9" text-anchor="end" font-size="21.5" font-family="Liberation Serif, serif" fill="#000" stroke="#adadad" stroke-width="1.5" paint-order="stroke">2</text>
<text x="62.8" y="487.8" text-anchor="end" font-size="21.5" font-family="Liberation Serif, serif" fill="#000" stroke="#adadad" stroke-width="1.5" paint-order="stroke">4</text>
<text x="62.8" y="428.8" text-anchor="end" font-size="21.5" font-family="Liberation Serif, serif" fill="#000" stroke="#adadad" stroke-width="1.5" paint-order="stroke">6</text>
<text x="62.8" y="369.8" text-anchor="end" font-size="21.5" font-family="Liberation Serif, serif" fill="#000" stroke="#adadad" stroke-width="1.5" paint-order="stroke">8</text>
<text x="62.8" y="310.7" text-anchor="end" font-size="21.5" font-family="Liberation Serif, serif" fill="#000" stroke="#adadad" stroke-width="1.5" paint-order="stroke">10</text>
<text x="62.8" y="251.7" text-anchor="end" font-size="21.5" font-family="Liberation Serif, serif" fill="#000" stroke="#adadad" stroke-width="1.5" paint-order="stroke">12</text>
<text x="62.8" y="192.6" text-anchor="end" font-size="21.5" font-family="Liberation Serif, serif" fill="#000" stroke="#adadad" stroke-width="1.5" paint-order="stroke">14</text>
<text x="62.8" y="133.6" text-anchor="end" font-size="21.5" font-family="Liberation Serif, serif" fill="#000" stroke="#adadad" stroke-width="1.5" paint-order="stroke">16</text>
<text x="62.8" y="74.5" text-anchor="end" font-size="21.5" font-family="Liberation Serif, serif" fill="#000" stroke="#adadad" stroke-width="1.5" paint-order="stroke">18</text>
<text x="62.8" y="15.4" text-anchor="end" font-size="21.5" font-family="Liberation Serif, serif" fill="#000" stroke="#adadad" stroke-width="1.5" paint-order="stroke">20</text>
<text x="65" y="625.4" font-size="21.5" font-family="Liberation Serif, serif" fill="#000" stroke="#adadad" stroke-width="1.5" paint-order="stroke">10</text>
<text x="124.2" y="625.4" font-size="21.5" font-family="Liberation Serif, serif" fill="#000" stroke="#adadad" stroke-width="1.5" paint-order="stroke">10<tspan font-size="13" dx="1" dy="-6">2</tspan></text>
<text x="190.3" y="625.4" font-size="21.5" font-family="Liberation Serif, serif" fill="#000" stroke="#adadad" stroke-width="1.5" paint-order="stroke">10<tspan font-size="13" dx="1" dy="-6">3</tspan></text>
<text x="256.5" y="625.4" font-size="21.5" font-family="Liberation Serif, serif" fill="#000" stroke="#adadad" stroke-width="1.5" paint-order="stroke">10<tspan font-size="13" dx="1" dy="-6">4</tspan></text>
<text x="322.7" y="625.4" font-size="21.5" font-family="Liberation Serif, serif" fill="#000" stroke="#adadad" stroke-width="1.5" paint-order="stroke">10<tspan font-size="13" dx="1" dy="-6">5</tspan></text>
<text x="388.8" y="625.4" font-size="21.5" font-family="Liberation Serif, serif" fill="#000" stroke="#adadad" stroke-width="1.5" paint-order="stroke">10<tspan font-size="13" dx="1" dy="-6">6</tspan></text>
<text x="455.0" y="625.4" font-size="21.5" font-family="Liberation Serif, serif" fill="#000" stroke="#adadad" stroke-width="1.5" paint-order="stroke">10<tspan font-size="13" dx="1" dy="-6">7</tspan></text>
<text x="521.2" y="625.4" font-size="21.5" font-family="Liberation Serif, serif" fill="#000" stroke="#adadad" stroke-width="1.5" paint-order="stroke">10<tspan font-size="13" dx="1" dy="-6">8</tspan></text>
<text x="587.3" y="625.4" font-size="21.5" font-family="Liberation Serif, serif" fill="#000" stroke="#adadad" stroke-width="1.5" paint-order="stroke">10<tspan font-size="13" dx="1" dy="-6">9</tspan></text>
<text x="648.0" y="625.4" font-size="21.5" font-family="Liberation Serif, serif" fill="#000" stroke="#adadad" stroke-width="1.5" paint-order="stroke">10<tspan font-size="13" dx="1" dy="-6">10</tspan></text>
<text transform="translate(16.6,303.8) rotate(-90)" text-anchor="middle" font-size="23" textLength="82.8" lengthAdjust="spacingAndGlyphs" font-family="Liberation Serif, serif" fill="#000" stroke="#adadad" stroke-width="1.5" paint-order="stroke">redshift</text>
<text x="317" y="656.7" font-size="23.5" font-family="Liberation Serif, serif" fill="#000" stroke="#adadad" stroke-width="1.5" paint-order="stroke">m</text>
<text x="335.8" y="662.8" font-size="12.5" textLength="27.5" lengthAdjust="spacingAndGlyphs" font-family="Liberation Serif, serif" fill="#000" stroke="#adadad" stroke-width="1.5" paint-order="stroke">BH,T</text>
<text x="375.5" y="656.7" font-size="23.3" textLength="22" lengthAdjust="spacingAndGlyphs" font-family="Liberation Serif, serif" fill="#000" stroke="#adadad" stroke-width="1.5" paint-order="stroke">[M</text>
<circle cx="402.5" cy="656.7" r="4.3" fill="#000" stroke="#8a8a8a" stroke-width="0.8"/><circle cx="402.5" cy="656.7" r="1" fill="#8a8a8a"/>
<text x="409" y="656.7" font-size="23.3" textLength="6" lengthAdjust="spacingAndGlyphs" font-family="Liberation Serif, serif" fill="#000" stroke="#adadad" stroke-width="1.5" paint-order="stroke">]</text>
</svg></body></html>
